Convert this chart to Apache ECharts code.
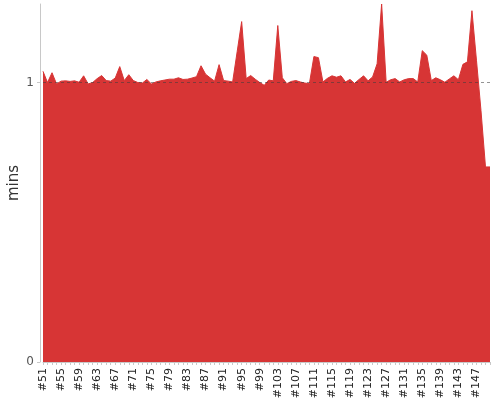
<!DOCTYPE html>
<html>
<head>
<meta charset="utf-8">
<script src="https://cdn.jsdelivr.net/npm/echarts@6/dist/echarts.min.js"></script>
<style>html,body{margin:0;padding:0;background:#fff}#c{width:500px;height:400px}</style>
</head>
<body>
<div id="c"></div>
<script>
const firstBuild = 51;
const lastBuild = 150;
const categories = [];
for (let b = firstBuild; b <= lastBuild; b++) categories.push('#' + b);

const durations = [
  1.040, 1.000, 1.035, 0.995, 1.005, 1.006, 1.004, 1.006, 1.001, 1.024,
  0.995, 1.000, 1.014, 1.025, 1.007, 1.005, 1.016, 1.057, 1.007, 1.028,
  1.007, 1.000, 0.998, 1.011, 0.995, 1.002, 1.006, 1.009, 1.012, 1.012,
  1.017, 1.011, 1.012, 1.016, 1.021, 1.060, 1.030, 1.017, 1.005, 1.064,
  1.007, 1.005, 1.002, 1.110, 1.218, 1.014, 1.025, 1.012, 1.000, 0.990,
  1.009, 1.006, 1.204, 1.017, 0.996, 1.004, 1.007, 1.002, 0.998, 0.996,
  1.093, 1.089, 1.002, 1.015, 1.024, 1.019, 1.024, 1.002, 1.011, 0.997,
  1.011, 1.024, 1.006, 1.020, 1.067, 1.281, 1.001, 1.010, 1.014, 1.002,
  1.010, 1.014, 1.014, 1.002, 1.114, 1.098, 1.007, 1.017, 1.010, 1.001,
  1.013, 1.024, 1.010, 1.065, 1.074, 1.257, 1.080, 0.900, 0.698, 0.698
];

const yTicks = [0, 1];
const referenceLine = 1;

const chart = echarts.init(document.getElementById('c'), null, {renderer: 'canvas'});
chart.setOption({
  animation: false,
  backgroundColor: '#fff',
  grid: {left: 43, right: 10, top: 4, bottom: 38, containLabel: false, outerBoundsMode: 'none'},
  xAxis: {
    type: 'category',
    data: categories,
    boundaryGap: false,
    axisLine: {show: true, lineStyle: {color: '#c8c8c8'}},
    axisTick: {show: true, interval: 0, length: 3, lineStyle: {color: '#c8c8c8'}},
    axisLabel: {
      interval: 3, rotate: 90, color: '#222', fontSize: 11,
      fontFamily: 'DejaVu Sans', margin: 6
    },
    splitLine: {show: false}
  },
  yAxis: {
    type: 'value',
    min: 0,
    max: 'dataMax',
    interval: 1,
    offset: 3,
    name: 'mins',
    nameLocation: 'middle',
    nameGap: 18,
    nameMoveOverlap: false,
    nameTextStyle: {color: '#333', fontSize: 15, fontFamily: 'DejaVu Sans'},
    axisLine: {show: true, lineStyle: {color: '#c8c8c8'}},
    axisTick: {show: true, length: 3, lineStyle: {color: '#c8c8c8'}},
    axisLabel: {
      color: '#555', fontSize: 12, fontFamily: 'DejaVu Sans', margin: 6,
      showMaxLabel: false,
      formatter: v => (yTicks.indexOf(v) >= 0 ? String(v) : '')
    },
    splitLine: {show: false}
  },
  series: [{
    type: 'line',
    data: durations,
    showSymbol: false,
    symbol: 'none',
    lineStyle: {color: '#d73535', width: 1},
    itemStyle: {color: '#d73535'},
    areaStyle: {color: '#d73535', opacity: 1},
    markLine: {
      silent: true,
      symbol: 'none',
      label: {show: false},
      lineStyle: {color: 'rgba(60,60,60,0.55)', type: [3, 3], width: 1},
      data: [{yAxis: referenceLine}]
    }
  }]
});
</script>
</body>
</html>
